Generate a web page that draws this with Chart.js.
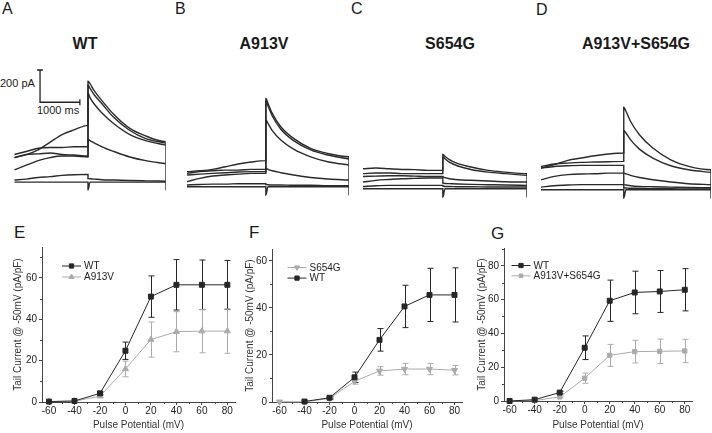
<!DOCTYPE html>
<html>
<head>
<meta charset="utf-8">
<script src="https://cdn.jsdelivr.net/npm/chart.js@4.4.1/dist/chart.umd.min.js"></script>
<style>
  body { margin: 0; background: #fff; font-family: "Liberation Sans", Arial, sans-serif; }
  #fig { position: relative; width: 712px; height: 433px; overflow: hidden; background: #fff; }
  canvas, .txt { position: absolute; }
  .txt { color: #1a1a1a; white-space: nowrap; line-height: 1; }
  .panel { font-size: 16px; }
  .panel.low { font-size: 17px; }
  .title { font-size: 16px; font-weight: bold; transform: translateX(-50%); }
  .bar { font-size: 11px; }
</style>
</head>
<body>
<div id="fig">
  <div class="txt panel" style="left:2px;top:1px">A</div>
  <div class="txt panel" style="left:175px;top:1px">B</div>
  <div class="txt panel" style="left:351px;top:1px">C</div>
  <div class="txt panel" style="left:536px;top:2px">D</div>
  <div class="txt title" style="left:85px;top:36px">WT</div>
  <div class="txt title" style="left:264px;top:36px">A913V</div>
  <div class="txt title" style="left:450px;top:36px">S654G</div>
  <div class="txt title" style="left:636px;top:36px">A913V+S654G</div>
  <div class="txt bar" style="left:0px;top:78px">200 pA</div>
  <div class="txt bar" style="left:37px;top:105px">1000 ms</div>

  <canvas id="traceA" width="162" height="136" style="left:9px;top:60px"></canvas>
  <canvas id="traceB" width="162" height="136" style="left:187px;top:60px"></canvas>
  <canvas id="traceC" width="164" height="136" style="left:363px;top:62px"></canvas>
  <canvas id="traceD" width="170" height="136" style="left:541px;top:63px"></canvas>

  <div class="txt panel low" style="left:14px;top:224px">E</div>
  <div class="txt panel low" style="left:249px;top:224px">F</div>
  <div class="txt panel low" style="left:491px;top:225px">G</div>

  <canvas id="ivE" width="240" height="193" style="left:0px;top:240px"></canvas>
  <canvas id="ivF" width="235" height="193" style="left:232px;top:240px"></canvas>
  <canvas id="ivG" width="233" height="193" style="left:464px;top:240px"></canvas>
</div>
<script>
// ---- raw current traces (pA), sampled at fixed times (ms) ----
const preTimes = [0, 300, 600, 900, 1200, 1500, 1850];
const tailTimes = [1850, 1900, 2000, 2200, 2500, 2900, 3300, 3800];
const traceFloor = -50;

const wtPre = [
  [152, 171, 200, 248, 295, 324, 352],
  [171, 190, 210, 215, 215, 219, 219],
  [152, 171, 175, 181, 171, 168, 162],
  [76, 105, 133, 152, 162, 162, 156],
  [13, 19, 29, 34, 42, 46, 48],
  [0, 0, 0, 0, 0, 0, 0],
];
const wtTail = [
  [625, 610, 568, 505, 419, 333, 286, 251],
  [600, 581, 543, 486, 400, 320, 270, 242],
  [552, 524, 486, 429, 362, 295, 257, 229],
  [267, 257, 244, 219, 190, 156, 133, 114],
  [23, 21, 19, 15, 13, 10, 8, 6],
  [-48, 0, 0, 0, 0, 0, 0, 0],
];

const a913vPre = [
  [86, 91, 99, 114, 130, 141, 149],
  [76, 86, 91, 95, 95, 99, 99],
  [67, 72, 76, 80, 84, 86, 86],
  [29, 48, 61, 67, 72, 76, 76],
  [10, 13, 15, 15, 17, 17, 17],
  [0, 0, 0, 0, 0, 0, 0],
];
const a913vTail = [
  [505, 476, 419, 343, 276, 219, 190, 171],
  [486, 461, 404, 328, 263, 210, 181, 158],
  [381, 362, 320, 267, 215, 171, 143, 124],
  [105, 99, 91, 80, 67, 53, 44, 38],
  [13, 11, 10, 10, 8, 8, 6, 6],
  [-48, 0, 0, 0, 0, 0, 0, 0],
];

const s654gPre = [
  [114, 118, 114, 110, 109, 105, 105],
  [86, 90, 90, 86, 86, 86, 86],
  [70, 72, 74, 74, 72, 70, 70],
  [38, 48, 53, 57, 59, 61, 61],
  [13, 17, 19, 19, 19, 19, 19],
  [0, 0, 0, 0, 0, 0, 0],
];
const s654gTail = [
  [196, 185, 166, 143, 124, 105, 95, 86],
  [181, 171, 152, 130, 110, 95, 86, 76],
  [67, 63, 57, 51, 48, 44, 40, 38],
  [32, 30, 29, 27, 25, 23, 21, 19],
  [15, 13, 13, 11, 11, 10, 10, 10],
  [-48, 0, 0, 0, 0, 0, 0, 0],
];

const doublePre = [
  [124, 143, 168, 181, 194, 204, 210],
  [133, 147, 152, 156, 158, 160, 162],
  [124, 133, 137, 139, 139, 139, 139],
  [57, 76, 86, 90, 91, 95, 95],
  [15, 23, 27, 29, 29, 29, 29],
  [0, 0, 0, 0, 0, 0, 0],
];
const doubleTail = [
  [472, 448, 391, 314, 238, 171, 133, 114],
  [339, 324, 286, 232, 181, 137, 114, 99],
  [95, 91, 82, 70, 57, 44, 34, 29],
  [29, 27, 23, 19, 17, 15, 13, 11],
  [10, 10, 8, 8, 6, 6, 4, 4],
  [-48, 0, 0, 0, 0, 0, 0, 0],
];

// scale bar: 200 pA / 1000 ms
const scaleBarTime = [646, 646, 1646];
const scaleBarCurrent = [695, 495, 495];

// ---- tail current vs pulse potential (pA/pF) ----
const pulseMv = [-60, -40, -20, 0, 20, 40, 60, 80];

const wtE = [0.2, 0.5, 4.2, 24.8, 51, 56.7, 56.7, 56.7];
const wtEErr = [0, 0, 0.7, 4.2, 10, 12.2, 12, 11.8];
const a913vE = [0.2, 0.4, 2.8, 16, 30.2, 34, 34.3, 34.3];
const a913vEErr = [0, 0, 0.5, 3.8, 8.5, 9.7, 10.5, 10.7];

const s654gF = [0.1, 0.1, 1.5, 8.8, 13.2, 14, 14, 13.5];
const s654gFErr = [0, 0, 0.3, 1.2, 1.8, 2.4, 2.4, 2];
const wtF = [null, 0.2, 1.8, 10.5, 26.4, 40.6, 45.5, 45.5];
const wtFErr = [0, 0, 0.5, 2.2, 4.8, 9, 11.3, 11.5];

const wtG = [0, 0.8, 5, 31.5, 59.3, 64.2, 64.8, 65.8];
const wtGErr = [0, 0, 0.8, 7, 12.2, 12.6, 12.4, 12.5];
const doubleG = [0.1, 0.3, 2.4, 13.5, 27, 29.2, 29.4, 29.6];
const doubleGErr = [0, 0, 0.5, 3, 6.5, 6.7, 7.2, 6.9];

const xTicks = [-60, -40, -20, 0, 20, 40, 60, 80];
const xMinor = [-50, -30, -10, 10, 30, 50, 70];
const yTicksE = [0, 20, 40, 60];
const yMinorE = [10, 30, 50, 70];
const yTicksF = [0, 20, 40, 60];
const yMinorF = [10, 30, 50];
const yTicksG = [0, 20, 40, 60, 80];
const yMinorG = [10, 30, 50, 70, 90];

const DARK = "#262626";
const GREY = "#ababab";
const FONT = "'Liberation Sans', Arial, sans-serif";

Chart.defaults.animation = false;
Chart.defaults.font.family = FONT;

function traceChart(id, pre, tail, extra) {
  const datasets = pre.map((row, i) => {
    const pts = preTimes.map((t, j) => ({ x: t, y: row[j] }))
      .concat(tailTimes.map((t, j) => ({ x: t, y: tail[i][j] })));
    if (i === 0) pts.push({ x: tailTimes[tailTimes.length - 1], y: traceFloor });
    return {
      data: pts,
      borderColor: "#2a2a2a",
      borderWidth: 1.4,
      pointRadius: 0,
      cubicInterpolationMode: "monotone",
    };
  });
  if (extra) datasets.push(extra);
  return new Chart(document.getElementById(id), {
    type: "line",
    data: { datasets },
    options: {
      responsive: false,
      layout: { padding: 0 },
      plugins: { legend: { display: false }, tooltip: { enabled: false } },
      scales: {
        x: { type: "linear", min: 0, max: 3800, display: false },
        y: { min: -53, max: 724, display: false },
      },
    },
  });
}

traceChart("traceA", wtPre, wtTail, {
  data: scaleBarTime.map((t, i) => ({ x: t, y: scaleBarCurrent[i] })),
  borderColor: "#222",
  backgroundColor: "#222",
  borderWidth: 1.3,
  pointStyle: "line",
  pointRadius: [3, 0, 3],
  pointRotation: [0, 0, 90],
  pointBorderWidth: 1.3,
  tension: 0,
});
traceChart("traceB", a913vPre, a913vTail);
traceChart("traceC", s654gPre, s654gTail);
traceChart("traceD", doublePre, doubleTail);

// error bars with caps, drawn through the chart's scales
const errorBars = {
  id: "errorBars",
  beforeDatasetsDraw(chart) {
    const { ctx, scales: { x, y } } = chart;
    chart.data.datasets.forEach((ds) => {
      if (!ds.errors) return;
      ctx.save();
      ctx.strokeStyle = ds.borderColor;
      ctx.lineWidth = 1;
      ds.data.forEach((p, j) => {
        const e = ds.errors[j];
        if (p.y == null || !e) return;
        const px = Math.round(x.getPixelForValue(p.x)) + 0.5;
        const top = y.getPixelForValue(p.y + e);
        const bot = y.getPixelForValue(p.y - e);
        ctx.beginPath();
        ctx.moveTo(px, top); ctx.lineTo(px, bot);
        ctx.moveTo(px - 3, top); ctx.lineTo(px + 3, top);
        ctx.moveTo(px - 3, bot); ctx.lineTo(px + 3, bot);
        ctx.stroke();
      });
      ctx.restore();
    });
  },
};

const minorTicks = {
  id: "minorTicks",
  afterDraw(chart, args, opts) {
    const { ctx, scales: { x, y } } = chart;
    ctx.save();
    ctx.strokeStyle = "#444";
    ctx.lineWidth = 1;
    ctx.beginPath();
    (opts.x || []).forEach((v) => {
      const px = Math.round(x.getPixelForValue(v)) + 0.5;
      ctx.moveTo(px, y.bottom); ctx.lineTo(px, y.bottom + 2);
    });
    (opts.y || []).forEach((v) => {
      const py = Math.round(y.getPixelForValue(v)) + 0.5;
      ctx.moveTo(x.left, py); ctx.lineTo(x.left - 2, py);
    });
    ctx.stroke();
    ctx.restore();
  },
};

const insetLegend = {
  id: "insetLegend",
  afterDraw(chart, args, opts) {
    const { ctx, chartArea } = chart;
    const x0 = chartArea.left + opts.dx;
    ctx.save();
    ctx.font = "10px " + FONT;
    ctx.textBaseline = "middle";
    chart.data.datasets.forEach((ds, i) => {
      const yy = chartArea.top + opts.dy + i * opts.gap;
      ctx.strokeStyle = ds.borderColor;
      ctx.lineWidth = 1;
      ctx.beginPath();
      ctx.moveTo(x0, yy); ctx.lineTo(x0 + 19, yy);
      ctx.stroke();
      ctx.fillStyle = ds.borderColor;
      ctx.strokeStyle = ds.borderColor;
      Chart.helpers.drawPoint(ctx, {
        pointStyle: ds.pointStyle, radius: ds.pointRadius - 0.5,
        rotation: ds.pointRotation || 0, borderWidth: 1,
      }, x0 + 9.5, yy);
      ctx.fillStyle = "#222";
      ctx.fillText(ds.label, x0 + 22, yy + 0.5);
    });
    ctx.restore();
  },
};

function ivChart(id, cfg) {
  const tickFont = { size: 10, family: FONT };
  return new Chart(document.getElementById(id), {
    type: "line",
    data: {
      datasets: cfg.series.map((s) => ({
        label: s.label,
        data: pulseMv.map((v, i) => ({ x: v, y: s.values[i] })),
        errors: s.errors,
        borderColor: s.color,
        backgroundColor: s.color,
        borderWidth: 1,
        pointStyle: s.marker,
        pointRotation: s.rotation || 0,
        pointRadius: s.size,
        pointBorderWidth: 1,
        order: s.order,
        clip: false,
        tension: 0,
      })),
    },
    options: {
      responsive: false,
      layout: { padding: { top: cfg.padTop, right: cfg.padRight, left: 0, bottom: 0 } },
      plugins: {
        legend: { display: false },
        tooltip: { enabled: false },
        minorTicks: { x: xMinor, y: cfg.yMinor },
        insetLegend: cfg.legend,
      },
      scales: {
        x: {
          type: "linear",
          min: cfg.xMin,
          max: cfg.xMax,
          afterBuildTicks: (s) => { s.ticks = xTicks.map((v) => ({ value: v })); },
          afterFit: (s) => { s.height = cfg.xHeight; s.paddingLeft = 0; s.paddingRight = 0; },
          grid: { drawOnChartArea: false, tickLength: 3, color: "#444" },
          border: { color: "#444", width: 1 },
          ticks: { color: "#222", font: tickFont, padding: 0, maxRotation: 0 },
          title: {
            display: true, text: "Pulse Potential (mV)", color: "#333",
            font: tickFont, padding: { top: 0, bottom: 2 },
          },
        },
        y: {
          min: 0,
          max: cfg.yMax,
          afterBuildTicks: (s) => { s.ticks = cfg.yTicks.map((v) => ({ value: v })); },
          afterFit: (s) => { s.width = cfg.yWidth; s.paddingTop = 0; s.paddingBottom = 0; },
          grid: { drawOnChartArea: false, tickLength: 3, color: "#444" },
          border: { color: "#444", width: 1 },
          ticks: { color: "#222", font: tickFont, padding: 2 },
          title: {
            display: true, text: "Tail Current @ -50mV (pA/pF)", color: "#333",
            font: tickFont, padding: { top: 12, bottom: 0 },
          },
        },
      },
    },
    plugins: [errorBars, minorTicks, insetLegend],
  });
}

ivChart("ivE", {
  xMin: -65.5, xMax: 86, yMax: 75, yTicks: yTicksE, yMinor: yMinorE,
  yWidth: 42, xHeight: 31, padTop: 7, padRight: 4,
  legend: { dx: 20, dy: 19, gap: 11 },
  series: [
    { label: "WT", values: wtE, errors: wtEErr, color: DARK, marker: "rect", size: 3.5, order: 0 },
    { label: "A913V", values: a913vE, errors: a913vEErr, color: GREY, marker: "triangle", size: 3.5, order: 1 },
  ],
});

ivChart("ivF", {
  xMin: -66, xMax: 86, yMax: 65, yTicks: yTicksF, yMinor: yMinorF,
  yWidth: 40, xHeight: 31, padTop: 9, padRight: 4.3,
  legend: { dx: 15.5, dy: 18.5, gap: 10.6 },
  series: [
    { label: "S654G", values: s654gF, errors: s654gFErr, color: GREY, marker: "triangle", rotation: 180, size: 3.5, order: 1 },
    { label: "WT", values: wtF, errors: wtFErr, color: DARK, marker: "rect", size: 3.5, order: 0 },
  ],
});

ivChart("ivG", {
  xMin: -64.5, xMax: 85.8, yMax: 90.5, yTicks: yTicksG, yMinor: yMinorG,
  yWidth: 40, xHeight: 32, padTop: 8, padRight: 4.3,
  legend: { dx: 7.5, dy: 17.5, gap: 10.3 },
  series: [
    { label: "WT", values: wtG, errors: wtGErr, color: DARK, marker: "rect", size: 3.5, order: 0 },
    { label: "A913V+S654G", values: doubleG, errors: doubleGErr, color: GREY, marker: "rect", size: 3, order: 1 },
  ],
});
</script>
</body>
</html>
